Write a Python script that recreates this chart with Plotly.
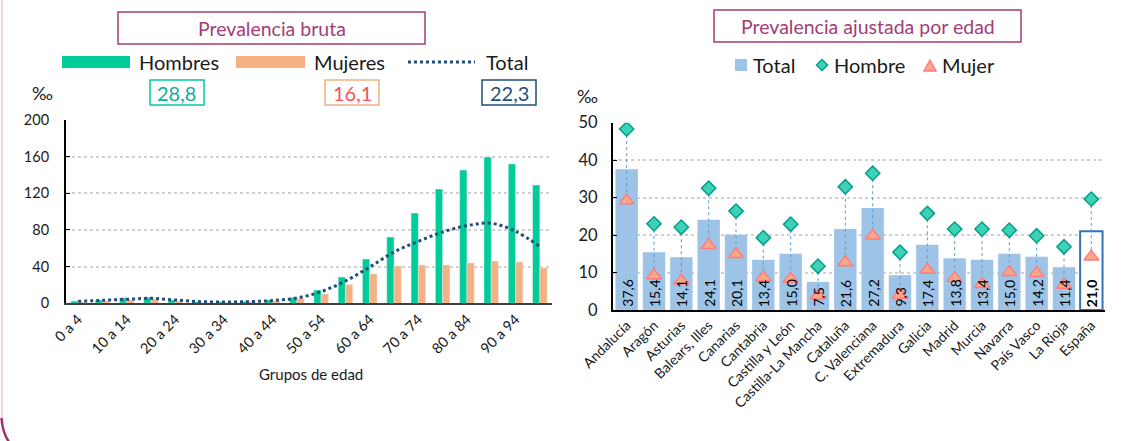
import plotly.graph_objects as go

# ---------------- data ----------------
age_groups = ["0 a 4", "5 a 9", "10 a 14", "15 a 19", "20 a 24", "25 a 29", "30 a 34",
              "35 a 39", "40 a 44", "45 a 49", "50 a 54", "55 a 59", "60 a 64", "65 a 69",
              "70 a 74", "75 a 79", "80 a 84", "85 a 89", "90 a 94", "95 y más"]
hombres = [2.5, 3.6, 6.0, 6.5, 3.6, 1.8, 1.8, 2.2, 3.6, 6.3, 14.5, 28.7, 48.3, 72.3,
           98.5, 124.7, 145.4, 159.6, 152.0, 129.0]
mujeres = [1.5, 2.5, 3.6, 5.0, 2.5, 1.0, 1.0, 1.8, 2.5, 5.4, 10.2, 20.4, 32.0, 40.7,
           41.8, 41.8, 44.0, 46.2, 45.1, 38.6]
total_edad = [2.2, 3.2, 4.4, 5.4, 3.6, 1.8, 1.5, 1.8, 3.0, 5.8, 12.7, 24.3, 39.6, 56.0,
              67.6, 77.8, 84.7, 87.3, 78.5, 61.8]
crude_labels = ["28,8", "16,1", "22,3"]

regiones = ["Andalucía", "Aragón", "Asturias", "Balears, Illes", "Canarias", "Cantabria",
            "Castilla y León", "Castilla-La Mancha", "Cataluña", "C. Valenciana",
            "Extremadura", "Galicia", "Madrid", "Murcia", "Navarra", "País Vasco",
            "La Rioja", "España"]
total_aj = [37.6, 15.4, 14.1, 24.1, 20.1, 13.4, 15.0, 7.5, 21.6, 27.2, 9.3, 17.4, 13.8,
            13.4, 15.0, 14.2, 11.4, 21.0]
hombre_aj = [48.3, 23.0, 22.1, 32.5, 26.4, 19.3, 22.9, 11.7, 32.9, 36.5, 15.4, 25.8,
             21.6, 21.6, 21.3, 19.8, 16.9, 29.6]
mujer_aj = [29.2, 9.2, 7.8, 17.3, 14.9, 8.7, 8.3, 3.8, 12.7, 19.8, 4.0, 10.7, 8.5, 6.9,
            10.1, 9.8, 6.7, 14.2]

# ---------------- styling ----------------
W, H = 1136, 441
FONT = "Lato"
GREEN = "#00CC99"
ORANGE = "#F4B183"
NAVY = "#1F4E79"
MAGENTA = "#A33D73"
BLUEBAR = "#9DC3E6"
GRID = "#D0D0D0"
TXT = "#1a1a1a"


def X(px):
    return px / W


def Y(py):
    return 1 - py / H


fig = go.Figure()

# ---------- left chart ----------
fig.add_trace(go.Bar(x=age_groups, y=hombres, name="Hombres", marker_color=GREEN,
                     width=0.3, offset=-0.3, xaxis="x", yaxis="y", showlegend=False))
fig.add_trace(go.Bar(x=age_groups, y=mujeres, name="Mujeres", marker_color=ORANGE,
                     width=0.3, offset=0.0, xaxis="x", yaxis="y", showlegend=False))
fig.add_trace(go.Scatter(x=age_groups, y=total_edad, name="Total", mode="lines",
                         line=dict(color=NAVY, width=3, dash="dot", shape="spline"),
                         xaxis="x", yaxis="y", showlegend=False))

# ---------- right chart ----------
n = len(regiones)
bar_colors = [BLUEBAR] * (n - 1) + ["white"]
bar_line_colors = [BLUEBAR] * (n - 1) + ["#2E75B6"]
bar_line_widths = [0] * (n - 1) + [2]
fig.add_trace(go.Bar(x=regiones, y=total_aj, name="Total", width=0.82,
                     marker=dict(color=bar_colors,
                                 line=dict(color=bar_line_colors, width=bar_line_widths)),
                     xaxis="x2", yaxis="y2", showlegend=False))

hl_x, hl_y = [], []
for r, h, m in zip(regiones, hombre_aj, mujer_aj):
    hl_x += [r, r, None]
    hl_y += [h, m, None]
fig.add_trace(go.Scatter(x=hl_x, y=hl_y, mode="lines",
                         line=dict(color="#5B9BD5", width=1, dash="dot"),
                         xaxis="x2", yaxis="y2", showlegend=False, hoverinfo="skip"))
fig.add_trace(go.Scatter(x=regiones, y=mujer_aj, mode="markers", name="Mujer",
                         marker=dict(symbol="triangle-up", size=13, color="#F8A88A",
                                     line=dict(color="#FF7C80", width=1.5)),
                         xaxis="x2", yaxis="y2", showlegend=False))
fig.add_trace(go.Scatter(x=regiones, y=hombre_aj, mode="markers", name="Hombre",
                         marker=dict(symbol="diamond", size=11, color="#3ED1B5",
                                     line=dict(color="#00A08A", width=1.5)),
                         xaxis="x2", yaxis="y2", showlegend=False))

# ---------- axes ----------
fig.update_layout(
    width=W, height=H,
    margin=dict(l=0, r=0, t=0, b=0),
    paper_bgcolor="white", plot_bgcolor="white",
    font=dict(family=FONT, color=TXT),
    barmode="overlay",
    xaxis=dict(domain=[X(66), X(552)], type="category", categoryorder="array",
               categoryarray=age_groups, range=[-0.5, 19.5],
               tickvals=age_groups[::2], ticktext=age_groups[::2],
               tickangle=-45, tickfont=dict(family=FONT, size=14.5, color=TXT),
               showline=True, linecolor="#404040", linewidth=2, ticks="",
               showgrid=False, anchor="y", automargin=False),
    yaxis=dict(domain=[Y(303.3), Y(120)], range=[0, 200], dtick=40,
               tickfont=dict(family=FONT, size=14.5, color=TXT),
               showline=True, linecolor="black", linewidth=2,
               ticks="inside", ticklen=4, tickcolor="black", ticklabelstandoff=12,
               showgrid=True, gridcolor=GRID, griddash="dot", gridwidth=1.5,
               zeroline=False, anchor="x", automargin=False),
    xaxis2=dict(domain=[X(613), X(1105)], type="category", categoryorder="array",
                categoryarray=regiones, range=[-0.5, 17.5], tickangle=-45,
                tickfont=dict(family=FONT, size=14, color=TXT),
                showline=True, linecolor="black", linewidth=1.5, ticks="",
                showgrid=False, anchor="y2", automargin=False),
    yaxis2=dict(domain=[Y(310), Y(122.7)], range=[0, 50], dtick=10,
                tickfont=dict(family=FONT, size=16.5, color=TXT),
                showline=True, linecolor="black", linewidth=2,
                ticks="inside", ticklen=4, tickcolor="black", ticklabelstandoff=10,
                showgrid=True, gridcolor=GRID, griddash="dot", gridwidth=1.5,
                zeroline=False, anchor="x2", automargin=False),
)

shapes = []
annotations = []

# data labels on the adjusted bars (drawn above the markers, as in the reference)
for r, v in zip(regiones, total_aj):
    lab = f"{v:.1f}".replace(".", ",")
    if r == "España":
        lab = "<b>" + lab + "</b>"
    annotations.append(dict(x=r, y=0, xref="x2", yref="y2", text=lab, textangle=-90,
                            xanchor="center", yanchor="bottom", yshift=1,
                            showarrow=False, font=dict(family=FONT, size=14, color="black")))


def rect(x0, y0, x1, y1, line_color, lw=1.5, fill=None):
    shapes.append(dict(type="rect", xref="paper", yref="paper",
                       x0=X(x0), x1=X(x1), y0=Y(y1), y1=Y(y0),
                       line=dict(color=line_color, width=lw),
                       fillcolor=fill if fill else "rgba(0,0,0,0)", layer="above"))


def text(px, py, s, size, color, xanchor="center"):
    annotations.append(dict(x=X(px), y=Y(py), xref="paper", yref="paper", text=s,
                            showarrow=False, xanchor=xanchor, yanchor="middle",
                            font=dict(family=FONT, size=size, color=color)))


# frame (left edge + rounded corner)
shapes.append(dict(type="line", xref="paper", yref="paper", x0=X(2), x1=X(2),
                   y0=Y(0), y1=Y(418), line=dict(color="#EFD3E1", width=2)))
shapes.append(dict(type="path", xref="paper", yref="paper",
                   path=f"M {X(1.5)},{Y(418)} Q {X(2.5)},{Y(435)} {X(12)},{Y(446)}",
                   line=dict(color="#A0306A", width=2.5)))

# titles
rect(118, 12, 425, 44, MAGENTA, 1.5)
text(271.5, 28, "Prevalencia bruta", 19.5, MAGENTA)
rect(714, 10, 1021, 42, MAGENTA, 1.5)
text(867.5, 26, "Prevalencia ajustada por edad", 19.5, MAGENTA)

# left legend
rect(62, 56, 130, 68, GREEN, 0, GREEN)
text(137, 62, "Hombres", 20, TXT, "left")
rect(236, 56, 305, 68, ORANGE, 0, ORANGE)
text(312, 62, "Mujeres", 20, TXT, "left")
shapes.append(dict(type="line", xref="paper", yref="paper", x0=X(408), x1=X(475),
                   y0=Y(62), y1=Y(62), line=dict(color=NAVY, width=3, dash="dot")))
text(484, 62, "Total", 20, TXT, "left")

# crude values boxes
rect(150, 80, 204, 105, GREEN, 1.5)
text(177, 93, crude_labels[0], 20, "#17A99B")
rect(325, 80, 379, 105, ORANGE, 1.5)
text(352, 93, crude_labels[1], 20, "#F2545B")
rect(482, 80, 536, 105, NAVY, 1.5)
text(509, 93, crude_labels[2], 20, NAVY)

# per mille labels
text(42, 93, "‰", 18, TXT)
text(587, 96, "‰", 18, TXT)

# x title left
text(311, 374, "Grupos de edad", 15, TXT)

# right legend
rect(735, 59, 747, 71, BLUEBAR, 0, BLUEBAR)
text(751, 65, "Total", 20, TXT, "left")
cx, cy = 822, 65
shapes.append(dict(type="path", xref="paper", yref="paper",
                   path=f"M {X(cx)},{Y(cy-5.5)} L {X(cx+5.5)},{Y(cy)} L {X(cx)},{Y(cy+5.5)} L {X(cx-5.5)},{Y(cy)} Z",
                   fillcolor="#3ED1B5", line=dict(color="#00A08A", width=1.5)))
text(832, 65, "Hombre", 20, TXT, "left")
tx, ty = 930, 66
shapes.append(dict(type="path", xref="paper", yref="paper",
                   path=f"M {X(tx)},{Y(ty-6)} L {X(tx+6)},{Y(ty+5)} L {X(tx-6)},{Y(ty+5)} Z",
                   fillcolor="#F8A88A", line=dict(color="#FF7C80", width=1.5)))
text(940, 65, "Mujer", 20, TXT, "left")

fig.update_layout(shapes=shapes, annotations=annotations)
fig.write_html("out.html", config={"displayModeBar": False},
               post_script="document.body.style.margin='0px';")
